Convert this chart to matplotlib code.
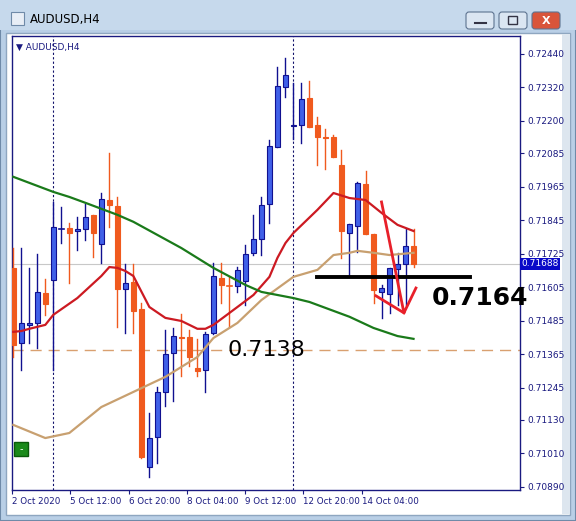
import matplotlib
matplotlib.use("Agg")
import matplotlib.pyplot as plt
from matplotlib.patches import Rectangle, FancyBboxPatch
import numpy as np

W, H = 576, 521
# candle OHLC (AUDUSD H4)
opens  = [0.71674,0.71405,0.71470,0.71477,0.71584,0.71631,0.71814,0.71817,0.71806,0.71814,
          0.71864,0.71760,0.71917,0.71896,0.71599,0.71624,0.71527,0.70962,0.71069,0.71230,
          0.71370,0.71427,0.71427,0.71316,0.71309,0.71441,0.71638,0.71609,0.71609,0.71627,
          0.71728,0.71778,0.71903,0.72107,0.72322,0.72182,0.72186,0.72282,0.72186,0.72143,
          0.72143,0.72043,0.71799,0.71824,0.71975,0.71796,0.71588,0.71581,0.71670,0.71688,0.71753]
highs  = [0.71745,0.71745,0.71674,0.71724,0.71635,0.71910,0.71892,0.71835,0.71856,0.71903,
          0.71864,0.71942,0.72086,0.71928,0.71688,0.71688,0.71549,0.71155,0.71248,0.71452,
          0.71459,0.71509,0.71452,0.71420,0.71445,0.71692,0.71692,0.71642,0.71677,0.71756,
          0.71864,0.71928,0.72132,0.72393,0.72426,0.72336,0.72336,0.72343,0.72214,0.72172,
          0.72150,0.72096,0.71831,0.71982,0.72021,0.71796,0.71613,0.71674,0.71728,0.71814,0.71814]
lows   = [0.71355,0.71309,0.71405,0.71388,0.71506,0.71309,0.71763,0.71620,0.71738,0.71774,
          0.71713,0.71692,0.71821,0.71463,0.71441,0.71441,0.70994,0.70926,0.70976,0.71180,
          0.71198,0.71287,0.71323,0.71287,0.71230,0.71438,0.71549,0.71463,0.71588,0.71541,
          0.71720,0.71720,0.71835,0.72107,0.72286,0.72136,0.72121,0.72179,0.72043,0.72028,
          0.72071,0.71710,0.71649,0.71731,0.71796,0.71549,0.71495,0.71513,0.71541,0.71541,0.71677]
closes = [0.71398,0.71477,0.71477,0.71588,0.71545,0.71821,0.71817,0.71799,0.71814,0.71856,
          0.71799,0.71921,0.71899,0.71599,0.71620,0.71520,0.70997,0.71065,0.71230,0.71366,
          0.71430,0.71423,0.71355,0.71305,0.71438,0.71645,0.71613,0.71606,0.71667,0.71724,
          0.71778,0.71899,0.72111,0.72325,0.72365,0.72186,0.72279,0.72179,0.72143,0.72139,
          0.72071,0.71806,0.71831,0.71978,0.71796,0.71595,0.71602,0.71674,0.71688,0.71753,0.71688]

ma_red_idx = [0,1,2,4,5,8,11,12,13,14,15,17,19,21,23,24,25,28,30,32,33,34,35,38,40,42,44,46,48,50]
ma_red_val = [0.71445,0.71448,0.71456,0.71470,0.71506,0.71566,0.71645,0.71677,0.71674,0.71663,
              0.71645,0.71534,0.71495,0.71484,0.71456,0.71456,0.71470,0.71534,0.71577,0.71642,
              0.71710,0.71763,0.71799,0.71882,0.71942,0.71924,0.71917,0.71871,0.71828,0.71806]
ma_tan_idx = [0,4,7,11,15,19,23,25,28,31,35,38,40,42,43,45,47,50]
ma_tan_val = [0.71112,0.71065,0.71083,0.71176,0.71230,0.71284,0.71355,0.71423,0.71477,0.71559,
              0.71642,0.71667,0.71720,0.71728,0.71735,0.71728,0.71720,0.71728]
ma_grn_idx = [0,5,7,9,13,15,21,25,29,31,33,35,37,42,45,48,50]
ma_grn_val = [0.72000,0.71946,0.71928,0.71907,0.71864,0.71839,0.71745,0.71674,0.71613,0.71588,
              0.71577,0.71566,0.71552,0.71499,0.71459,0.71430,0.71420]

ytick_vals = [0.72440,0.72320,0.72200,0.72085,0.71965,0.71845,0.71725,0.71605,0.71485,0.71365,
              0.71245,0.71130,0.71010,0.70890]
xtick_pos = [-0.16,7.1,14.4,21.7,29.0,36.2,43.5]
xtick_labels = ["2 Oct 2020","5 Oct 12:00","6 Oct 20:00","8 Oct 04:00","9 Oct 12:00","12 Oct 20:00","14 Oct 04:00"]
last_price = 0.71688
support = 0.7164
level2 = 0.7138

fig = plt.figure(figsize=(W/100, H/100), dpi=100)
fig.patch.set_facecolor("#b9cfe6")

def px(x0, y0, x1, y1):
    return [x0/W, 1-y1/H, (x1-x0)/W, (y1-y0)/H]

# window chrome
bg = fig.add_axes([0,0,1,1]); bg.set_xlim(0,W); bg.set_ylim(H,0); bg.axis("off")
bg.add_patch(Rectangle((0,0),W,H,facecolor="#b9cfe6",edgecolor="#6f8aa8",lw=1.5))
bg.add_patch(Rectangle((0,0),W,30,facecolor="#c6d9ec",edgecolor="none"))
bg.add_patch(Rectangle((6,33),W-12,H-39,facecolor="white",edgecolor="#8ea6c0",lw=1))
bg.add_patch(Rectangle((562,34),8,H-41,facecolor="#dde6ef",edgecolor="none"))
bg.text(30,19,"AUDUSD,H4",fontsize=8.5,va="center",color="black")
bg.add_patch(Rectangle((11,12),13,13,facecolor="#e8eef6",edgecolor="#6f8aa8",lw=0.8))
for x0,fc in [(466,"#dbe6f2"),(499,"#dbe6f2"),(532,"#d9553a")]:
    bg.add_patch(FancyBboxPatch((x0,12),28,17,boxstyle="round,pad=0,rounding_size=3",facecolor=fc,edgecolor="#5d7390",lw=0.8))
bg.plot([475,486],[23,23],color="#334",lw=1.5)
bg.add_patch(Rectangle((508,16),9,8,facecolor="none",edgecolor="#334",lw=1))
bg.text(546,20.5,"X",color="white",fontsize=8,fontweight="bold",ha="center",va="center")

ax = fig.add_axes(px(12,36,520,490))
ymin, ymax = 0.70879, 0.72504
ax.set_xlim(-0.16, 63.3); ax.set_ylim(ymin, ymax)
ax.set_facecolor("white")
for s in ax.spines.values():
    s.set_color("#1a1a80"); s.set_linewidth(1)

# lines
ax.axhline(last_price, color="#c8c8c8", lw=0.8, zorder=1)
ax.axhline(level2, color="#d9a070", lw=1, dashes=(8,5), zorder=1)
for xv in [5, 35]:
    ax.axvline(xv, color="#10106a", lw=0.8, ls=(0,(2,2)), zorder=1)

BLUE, BLUEE, ORANGE = "#4060e8", "#101090", "#f05a1e"
for i,(o,h,l,c) in enumerate(zip(opens,highs,lows,closes)):
    up = c >= o
    wc = BLUEE if up else ORANGE
    ax.plot([i,i],[l,h],color=wc,lw=1,zorder=3)
    lo, hi = min(o,c), max(o,c)
    if hi-lo < 0.00003:
        ax.plot([i-0.3,i+0.3],[o,o],color=wc,lw=1.2,zorder=4)
    else:
        ax.add_patch(Rectangle((i-0.3,lo),0.6,hi-lo,facecolor=BLUE if up else ORANGE,
                               edgecolor=BLUEE if up else ORANGE,lw=0.8,zorder=4))

ax.plot(ma_red_idx, ma_red_val, color="#cc1a22", lw=1.6, zorder=5)
ax.plot(ma_tan_idx, ma_tan_val, color="#c8a070", lw=1.6, zorder=5)
ax.plot(ma_grn_idx, ma_grn_val, color="#1a7a1a", lw=1.6, zorder=5)

# annotations
ax.plot([37.9, 57.1],[support, support], color="black", lw=2.8, zorder=6)
t = ax.text(52.3, 0.71566, "0.7164", fontsize=18, fontweight="bold", ha="left", va="center", zorder=7)
t.set_clip_on(False)
ax.text(26.8, 0.71380, "0.7138", fontsize=16, ha="left", va="center", zorder=7)
ax.plot([46.0, 48.8, 50.3],[0.71910, 0.71513, 0.71602], color="#e8202a", lw=2, zorder=7)
ax.plot([45.3, 48.8],[0.71574, 0.71513], color="#e8202a", lw=2, zorder=7)

ax.text(0.008, 0.985, "\u25bc AUDUSD,H4", transform=ax.transAxes, fontsize=6.5, color="#1a1a80", va="top")
ax.add_patch(Rectangle((0.004,0.075),0.028,0.03,transform=ax.transAxes,facecolor="#1a8a1a",edgecolor="#0a5a0a",zorder=8))
ax.text(0.018,0.09,"-",transform=ax.transAxes,color="white",fontsize=7,ha="center",va="center",zorder=9)

ax.yaxis.tick_right()
ax.set_yticks(ytick_vals)
ax.set_yticklabels([f"{v:.5f}" for v in ytick_vals])
ax.tick_params(axis="y", colors="#1a1a80", labelsize=6.5, length=3, pad=2)
ax.set_xticks(xtick_pos)
ax.set_xticklabels(xtick_labels, ha="left")
ax.tick_params(axis="x", colors="#1a1a80", labelsize=6.3, length=3, pad=2)
for lab in ax.get_xticklabels():
    lab.set_color("#1a1a80")
ax.text(1.003, (last_price-ymin)/(ymax-ymin), f"{last_price:.5f}", transform=ax.transAxes,
        fontsize=6.5, color="white", va="center", ha="left",
        bbox=dict(boxstyle="square,pad=0.15", facecolor="#0a0ac8", edgecolor="none"), zorder=10)

fig.savefig("out.png", dpi=100)
